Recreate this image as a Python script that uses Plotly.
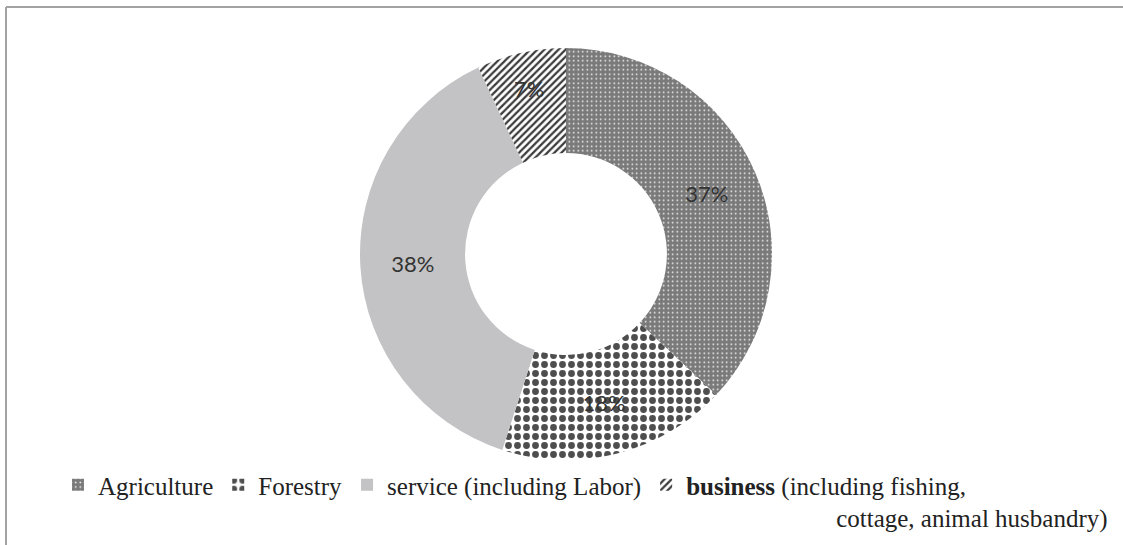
import plotly.graph_objects as go

# Share of household occupation by sector (percent)
sectors = [
    "Agriculture",
    "Forestry",
    "service (including Labor)",
    "<b>business</b> (including fishing,<br>"
    + "\u00a0" * 24 + "cottage, animal husbandry)",
]
shares = [37, 18, 38, 7]

# Fill styling per sector
base_colors = ["#7a7a7a", "#ffffff", "#c3c3c5", "#ffffff"]
pattern_shapes = [".", ".", "", "/"]
pattern_fg = ["#ffffff", "#4e4e4e", "#c3c3c5", "#3a3a3a"]
pattern_size = [4.5, 9, 8, 5]
pattern_solidity = [0.1, 0.45, 0.3, 0.45]

W, H = 1123, 545
cx, cy, r = 566, 254, 206  # pixel centre and outer radius of the ring

fig = go.Figure(
    go.Pie(
        labels=sectors,
        values=shares,
        sort=False,
        direction="clockwise",
        rotation=0,
        hole=0.49,
        texttemplate="%{percent:.0%}",
        textposition="inside",
        insidetextorientation="horizontal",
        textfont=dict(family="Lato, 'Open Sans', sans-serif", size=22, color="#333333"),
        marker=dict(
            colors=base_colors,
            line=dict(width=0),
            pattern=dict(
                shape=pattern_shapes,
                fgcolor=pattern_fg,
                bgcolor=base_colors,
                size=pattern_size,
                solidity=pattern_solidity,
                fillmode="replace",
            ),
        ),
        domain=dict(
            x=[(cx - r) / W, (cx + r) / W],
            y=[(H - cy - r) / H, (H - cy + r) / H],
        ),
        hoverinfo="label+percent",
    )
)

fig.update_layout(
    width=W,
    height=H,
    margin=dict(l=0, r=0, t=0, b=0, autoexpand=False),
    paper_bgcolor="white",
    plot_bgcolor="white",
    showlegend=True,
    legend=dict(
        orientation="h",
        x=58 / W,
        xanchor="left",
        y=(H - 462) / H,
        yanchor="top",
        valign="top",
        font=dict(family="Liberation Serif, 'Times New Roman', serif", size=25, color="#222222"),
        bgcolor="rgba(0,0,0,0)",
        itemclick=False,
        tracegroupgap=0,
    ),
    shapes=[
        # frame: top and left edges
        dict(type="line", xref="paper", yref="paper",
             x0=6 / W, x1=1, y0=(H - 7) / H, y1=(H - 7) / H,
             line=dict(color="#a3a3a3", width=2)),
        dict(type="line", xref="paper", yref="paper",
             x0=6 / W, x1=6 / W, y0=0, y1=(H - 7) / H,
             line=dict(color="#a3a3a3", width=2)),
    ],
)

fig.write_html("out.html")
